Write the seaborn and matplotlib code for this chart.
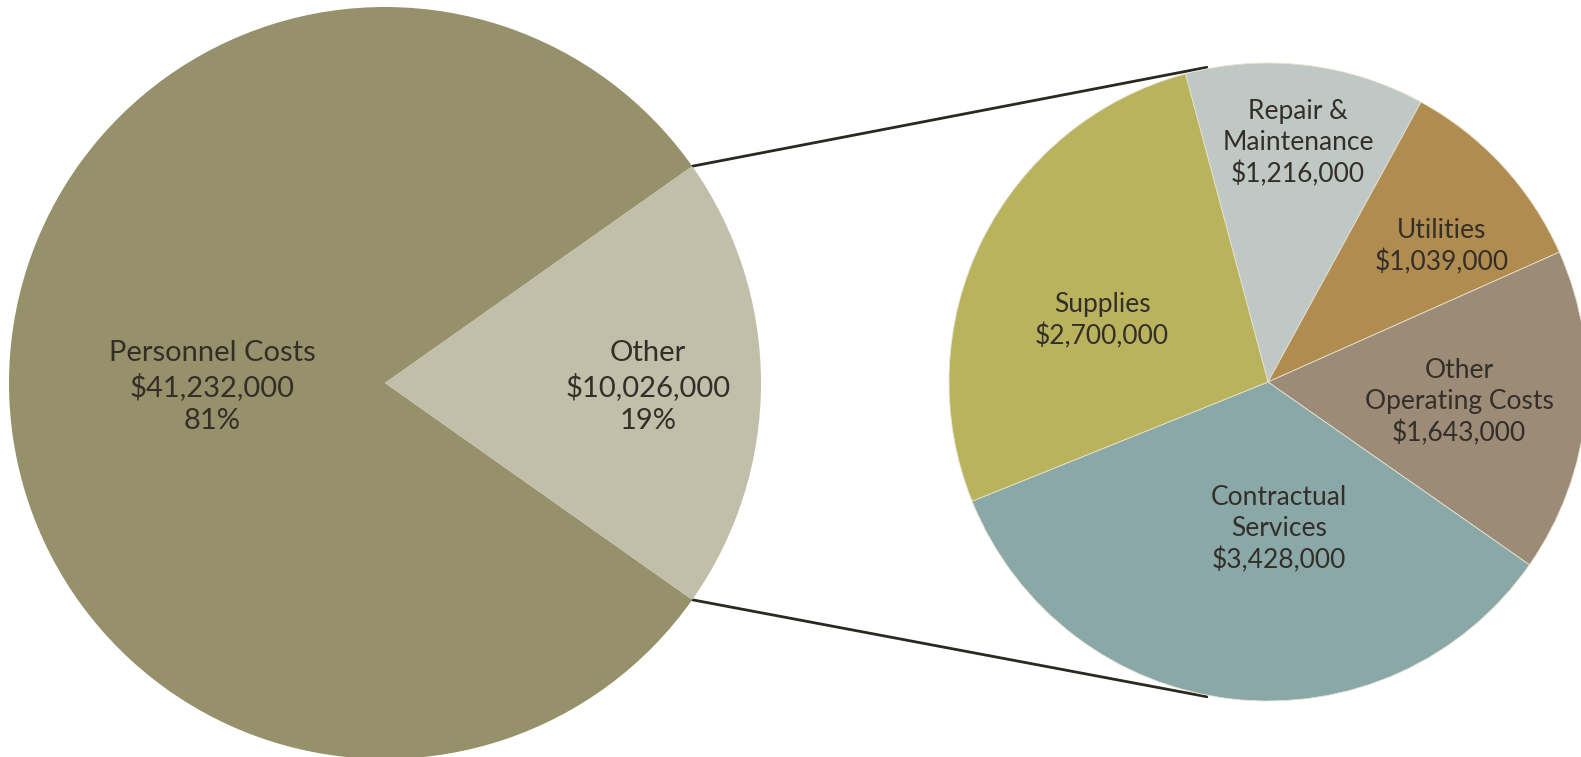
import numpy as np
import seaborn as sns
import matplotlib.pyplot as plt

# main pie
main_labels = ["Personnel Costs", "Other"]
main_values = [41232000, 10026000]
main_pct = ["81%", "19%"]

# breakdown of "Other"
sub_labels = ["Repair &\nMaintenance", "Utilities", "Other\nOperating Costs",
              "Contractual\nServices", "Supplies"]
sub_values = [1216000, 1039000, 1643000, 3428000, 2700000]

main_colors = ["#96916b", "#c1bfa9"]
sub_colors = ["#bfc8c5", "#b18c50", "#9c8b77", "#8aa8a8", "#bab35e"]

sns.set_theme(style="white")
plt.rcParams['font.family'] = ['Lato', 'DejaVu Sans']
TXT = "#332f28"

W, H = 1581, 757
fig = plt.figure(figsize=(W / 100, H / 100), dpi=100)
ax = fig.add_axes([0, 0, 1, 1])

# geometry in pixels (y measured from bottom)
c1, r1 = (385, H - 383), 376
c2, r2 = (1268, H - 382), 319

other_share = main_values[1] / sum(main_values)
half = other_share * 360 / 2
w1, _ = ax.pie(main_values, colors=main_colors, center=c1, radius=r1,
               startangle=half, counterclock=True,
               wedgeprops=dict(linewidth=0))
w2, _ = ax.pie(sub_values, colors=sub_colors, center=c2, radius=r2,
               startangle=105, counterclock=False,
               wedgeprops=dict(linewidth=0.6, edgecolor="#e6e2cf"))

# connector lines from the "Other" wedge to the breakdown pie
for sgn in (1, -1):
    a1 = np.deg2rad(sgn * half)
    a2 = np.deg2rad(sgn * 101)
    p1 = (c1[0] + r1 * np.cos(a1), c1[1] + r1 * np.sin(a1))
    p2 = (c2[0] + 1.005 * r2 * np.cos(a2), c2[1] + 1.005 * r2 * np.sin(a2))
    ax.plot([p1[0], p2[0]], [p1[1], p2[1]], color="#2a2820", lw=2, zorder=0)

# labels
main_pos = [(212, 387), (648, 387)]
for lab, v, pct, (x, y) in zip(main_labels, main_values, main_pct, main_pos):
    ax.text(x, H - y, f"{lab}\n${v:,.0f}\n{pct}", ha="center", va="center",
            fontsize=21, color=TXT, linespacing=1.33)

sub_pos = [(1298, 143), (1442, 247), (1459, 402), (1279, 529), (1102, 321)]
for lab, v, (x, y) in zip(sub_labels, sub_values, sub_pos):
    ax.text(x, H - y, f"{lab}\n${v:,.0f}", ha="center", va="center",
            fontsize=19, color=TXT, linespacing=1.29)

ax.set_xlim(0, W)
ax.set_ylim(0, H)
ax.set_aspect("equal")
ax.axis("off")

fig.savefig("out.png", dpi=100)
